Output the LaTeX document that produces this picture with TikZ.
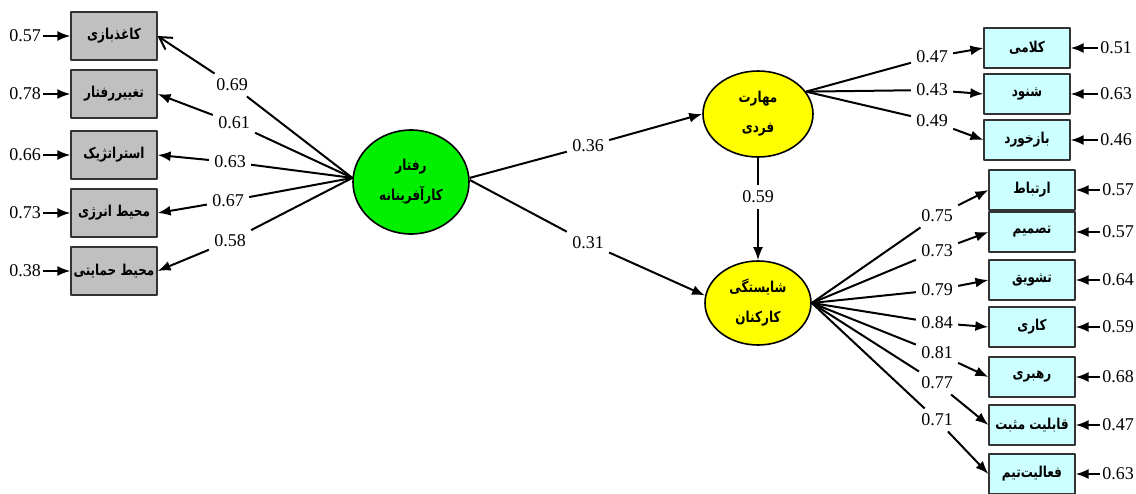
\documentclass[tikz,border=0pt]{standalone}
\usepackage{fontspec}
\setmainfont{Liberation Serif}
\newfontfamily\farsi[Script=Arabic,FakeStretch=0.8]{DejaVu Sans}
\TeXXeTstate=1
\usetikzlibrary{shapes.geometric,arrows.meta}
\definecolor{lvgreen}{RGB}{0,240,0}
\definecolor{lvyellow}{RGB}{255,255,0}
\definecolor{boxgray}{RGB}{192,192,192}
\definecolor{boxcyan}{RGB}{204,255,255}
\newcommand{\fa}[1]{{\farsi\bfseries\fontsize{7.5}{9}\selectfont\beginR #1\endR}}

\begin{document}
\begin{tikzpicture}[x=0.5pt,y=-0.5pt,line join=round,>={Latex[length=6.5pt,width=5pt]},
    obs/.style={draw=black!80,line width=0.6pt,minimum width=43pt,inner sep=0pt},
    leftobs/.style={obs,fill=boxgray,minimum height=24pt},
    rightobs/.style={obs,fill=boxcyan,minimum height=20pt},
    latent/.style={ellipse,draw,line width=0.8pt,inner sep=0pt,align=center},
    coef/.style={inner sep=2.5pt,font=\fontsize{9}{10}\selectfont},
    err/.style={inner sep=1pt,font=\fontsize{9}{10}\selectfont},
    path/.style={line width=1pt},
    solid tip/.style={->},
    open tip/.style={-{Straight Barb[length=6pt,width=7pt]}}]
  \useasboundingbox (0,0) rectangle (1136,493);

  % latent variables
  \node[latent,fill=lvgreen,minimum width=58pt,minimum height=52pt] (rk) at (411,182)
    {\fa{رفتار}\\[3pt]\fa{کارآفرینانه}};
  \node[latent,fill=lvyellow,minimum width=55pt,minimum height=43pt] (mf) at (758,114)
    {\fa{مهارت}\\[3pt]\fa{فردی}};
  \node[latent,fill=lvyellow,minimum width=53pt,minimum height=42pt] (sk) at (758,303)
    {\fa{شایستگی}\\[3pt]\fa{کارکنان}};

  % left indicators
  \foreach \y/\txt/\e/\c/\cx/\cy/\tip [count=\i] in {
      36/کاغذبازی/0.57/0.69/232/85/open tip, 94/تغییررفتار/0.78/0.61/234/123/solid tip,
      155/استراتژیک/0.66/0.63/230/162/solid tip, 213/محیط انرژی/0.73/0.67/228/201/solid tip,
      271/محیط حمایتی/0.38/0.58/230/241/solid tip} {
      \node[leftobs] (l\i) at (114,\y) {\fa{\txt}};
      \node[err] (le\i) at (25,\y) {\e};
      \node[coef] (lc\i) at (\cx,\cy) {\c};
      \draw[path,->] (le\i) -- (l\i);
      \draw[path,\tip] (rk.176) -- (lc\i) -- (l\i.east);
    }

  % right indicators, top
  \foreach \y/\txt/\e/\c/\cy [count=\i] in {48/کلامی/0.51/0.47/57, 94/شنود/0.63/0.43/90,
      140/بازخورد/0.46/0.49/121} {
      \node[rightobs] (t\i) at (1027,\y) {\fa{\txt}};
      \node[err] (te\i) at (1116,\y) {\e};
      \node[coef] (tc\i) at (932,\cy) {\c};
      \draw[path,->] (te\i) -- (t\i);
      \draw[path,->] (mf.25) -- (tc\i) -- (t\i.west);
    }

  % right indicators, bottom
  \foreach \y/\txt/\e/\c/\cy [count=\i] in {190/ارتباط/0.57/0.75/216, 232/تصمیم/0.57/0.73/251,
      280/تشویق/0.64/0.79/290, 327/کاری/0.59/0.84/323, 377/رهبری/0.68/0.81/353,
      425/قابلیت مثبت/0.47/0.77/383, 474/فعالیت‌تیم/0.63/0.71/420} {
      \node[rightobs] (b\i) at (1032,\y) {\fa{\txt}};
      \node[err] (be\i) at (1118,\y) {\e};
      \node[coef] (bc\i) at (937,\cy) {\c};
      \draw[path,->] (be\i) -- (b\i);
      \draw[path,->] (sk.east) -- (bc\i) -- (b\i.west);
    }

  % structural paths
  \node[coef] (c1) at (588,146) {0.36};
  \node[coef] (c2) at (588,243) {0.31};
  \node[coef] (c3) at (758,197) {0.59};
  \draw[path,->] (rk.4) -- (c1) -- (mf.west);
  \draw[path,->] (rk.2) -- (c2) -- (sk.172);
  \draw[path,->] (mf.south) -- (c3) -- (sk.north);
\end{tikzpicture}
\end{document}
